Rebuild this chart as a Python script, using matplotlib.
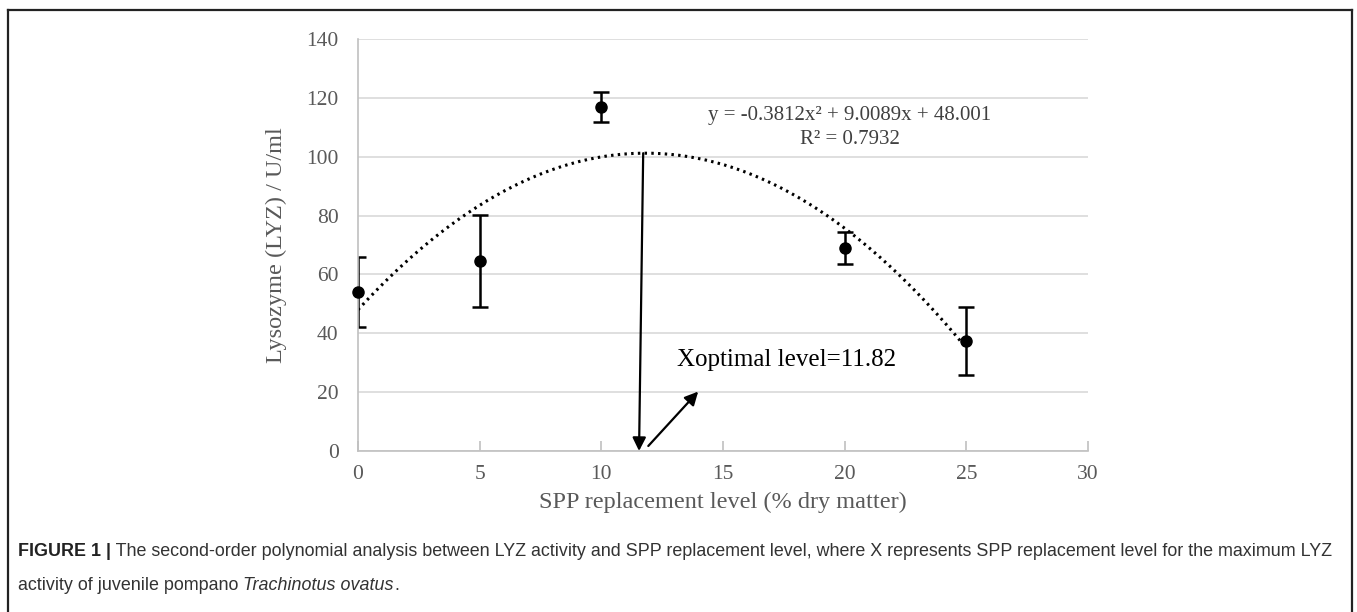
import matplotlib.pyplot as plt
import numpy as np
from matplotlib.lines import Line2D

# Data
levels = [0, 5, 10, 20, 25]
lyz_mean = [54.1, 64.7, 116.9, 69.0, 37.4]
lyz_err = [11.8, 15.6, 5.1, 5.3, 11.5]

# quadratic fit shown on the chart
fit_coef = [-0.3812, 9.0089, 48.001]
r_squared = 0.7932
x_opt = 11.82

x_ticks = [0, 5, 10, 15, 20, 25, 30]
y_ticks = [0, 20, 40, 60, 80, 100, 120, 140]

SERIF = ["Liberation Serif", "DejaVu Serif"]
GREY = "#595959"


def main() -> None:
    fig = plt.figure(figsize=(13.57, 6.12), dpi=100)
    ax = fig.add_axes([0.2638, 0.2631, 0.538, 0.673])

    ax.set_xlim(x_ticks[0], x_ticks[-1])
    ax.set_ylim(y_ticks[0], y_ticks[-1])
    ax.set_xticks(x_ticks)
    ax.set_yticks(y_ticks)
    ax.grid(axis="y", color="#d9d9d9", linewidth=1.2)
    ax.set_axisbelow(True)
    for side in ("top", "right"):
        ax.spines[side].set_visible(False)
    for side in ("left", "bottom"):
        ax.spines[side].set_color("#c0c0c0")
        ax.spines[side].set_linewidth(1.2)
    ax.tick_params(axis="x", direction="in", length=7, color="#c0c0c0", width=1.2,
                   labelsize=15.5, labelcolor=GREY, pad=10)
    ax.tick_params(axis="y", length=0, labelsize=15.5, labelcolor=GREY, pad=14)
    for lbl in ax.get_xticklabels() + ax.get_yticklabels():
        lbl.set_family(SERIF)

    # trendline
    xs = np.linspace(levels[0], levels[-1], 200)
    ys = np.polyval(fit_coef, xs)
    ax.plot(xs, ys, color="black", linewidth=2.2, linestyle=(0, (0.8, 1.4)))

    # error bars (clipped at axis edge) and points
    ax.errorbar(levels, lyz_mean, yerr=lyz_err, fmt="none", ecolor="black",
                elinewidth=1.8, capsize=6, capthick=1.8)
    ax.plot(levels, lyz_mean, "o", color="black", markersize=8, clip_on=False, zorder=5)

    # arrow from the vertex down to the x-axis
    y_top = np.polyval(fit_coef, x_opt)
    ax.annotate("", xy=(11.55, 0), xytext=(11.72, y_top),
                arrowprops=dict(arrowstyle="-|>", color="black", lw=1.6,
                                mutation_scale=20, shrinkA=0, shrinkB=0))
    ax.annotate("", xy=(13.98, 20.2), xytext=(11.93, 1.7),
                arrowprops=dict(arrowstyle="-|>", color="black", lw=1.6,
                                mutation_scale=20, shrinkA=0, shrinkB=0))
    ax.text(13.1, 31, f"Xoptimal level={x_opt:.2f}", fontsize=18, family=SERIF,
            color="black", va="center", ha="left")

    eq = (f"y = {fit_coef[0]:.4f}x\u00b2 + {fit_coef[1]:.4f}x + {fit_coef[2]:.3f}\n"
          f"R\u00b2 = {r_squared:.4f}")
    ax.text(20.2, 110.0, eq, fontsize=15, family=SERIF, color="#404040",
            ha="center", va="center", linespacing=1.35)

    ax.set_xlabel("SPP replacement level (% dry matter)", fontsize=17.5,
                  family=SERIF, color=GREY, labelpad=6)
    ax.set_ylabel("Lysozyme (LYZ) / U/ml", fontsize=17.5, family=SERIF,
                  color=GREY, labelpad=14)

    # outer frame (top, left, right)
    W, H = 1357, 612
    fx0, fx1, fy = 8 / W, 1352 / W, 1 - 10 / H
    for xd, yd in (([fx0, fx1], [fy, fy]), ([fx0, fx0], [fy, 0]), ([fx1, fx1], [fy, 0])):
        fig.add_artist(Line2D(xd, yd, transform=fig.transFigure, color="#222222", lw=1.6))

    # caption
    cap_font = ["Liberation Sans Narrow", "Liberation Sans", "DejaVu Sans"]
    cap_size = 12.9
    t1 = fig.text(18 / W, 1 - 552 / H, "FIGURE 1 |", fontsize=cap_size, weight="bold",
                  family=cap_font, color="#222222", va="center")
    ax.annotate(" The second-order polynomial analysis between LYZ activity and SPP "
                "replacement level, where X represents SPP replacement level for the maximum LYZ",
                xy=(1, 0), xycoords=t1, va="bottom", ha="left", fontsize=cap_size,
                family=cap_font, color="#333333", annotation_clip=False)
    t2 = fig.text(18 / W, 1 - 585 / H, "activity of juvenile pompano ", fontsize=cap_size,
                  family=cap_font, color="#333333", va="center")
    t3 = ax.annotate("Trachinotus ovatus", xy=(1, 0), xycoords=t2, va="bottom",
                     ha="left", fontsize=cap_size, family=cap_font, style="italic",
                     color="#333333", annotation_clip=False)
    ax.annotate(".", xy=(1, 0), xycoords=t3, va="bottom", ha="left", fontsize=cap_size,
                family=cap_font, color="#333333", annotation_clip=False)

    fig.savefig("out.png", dpi=100)
    plt.close(fig)


if __name__ == "__main__":
    main()
